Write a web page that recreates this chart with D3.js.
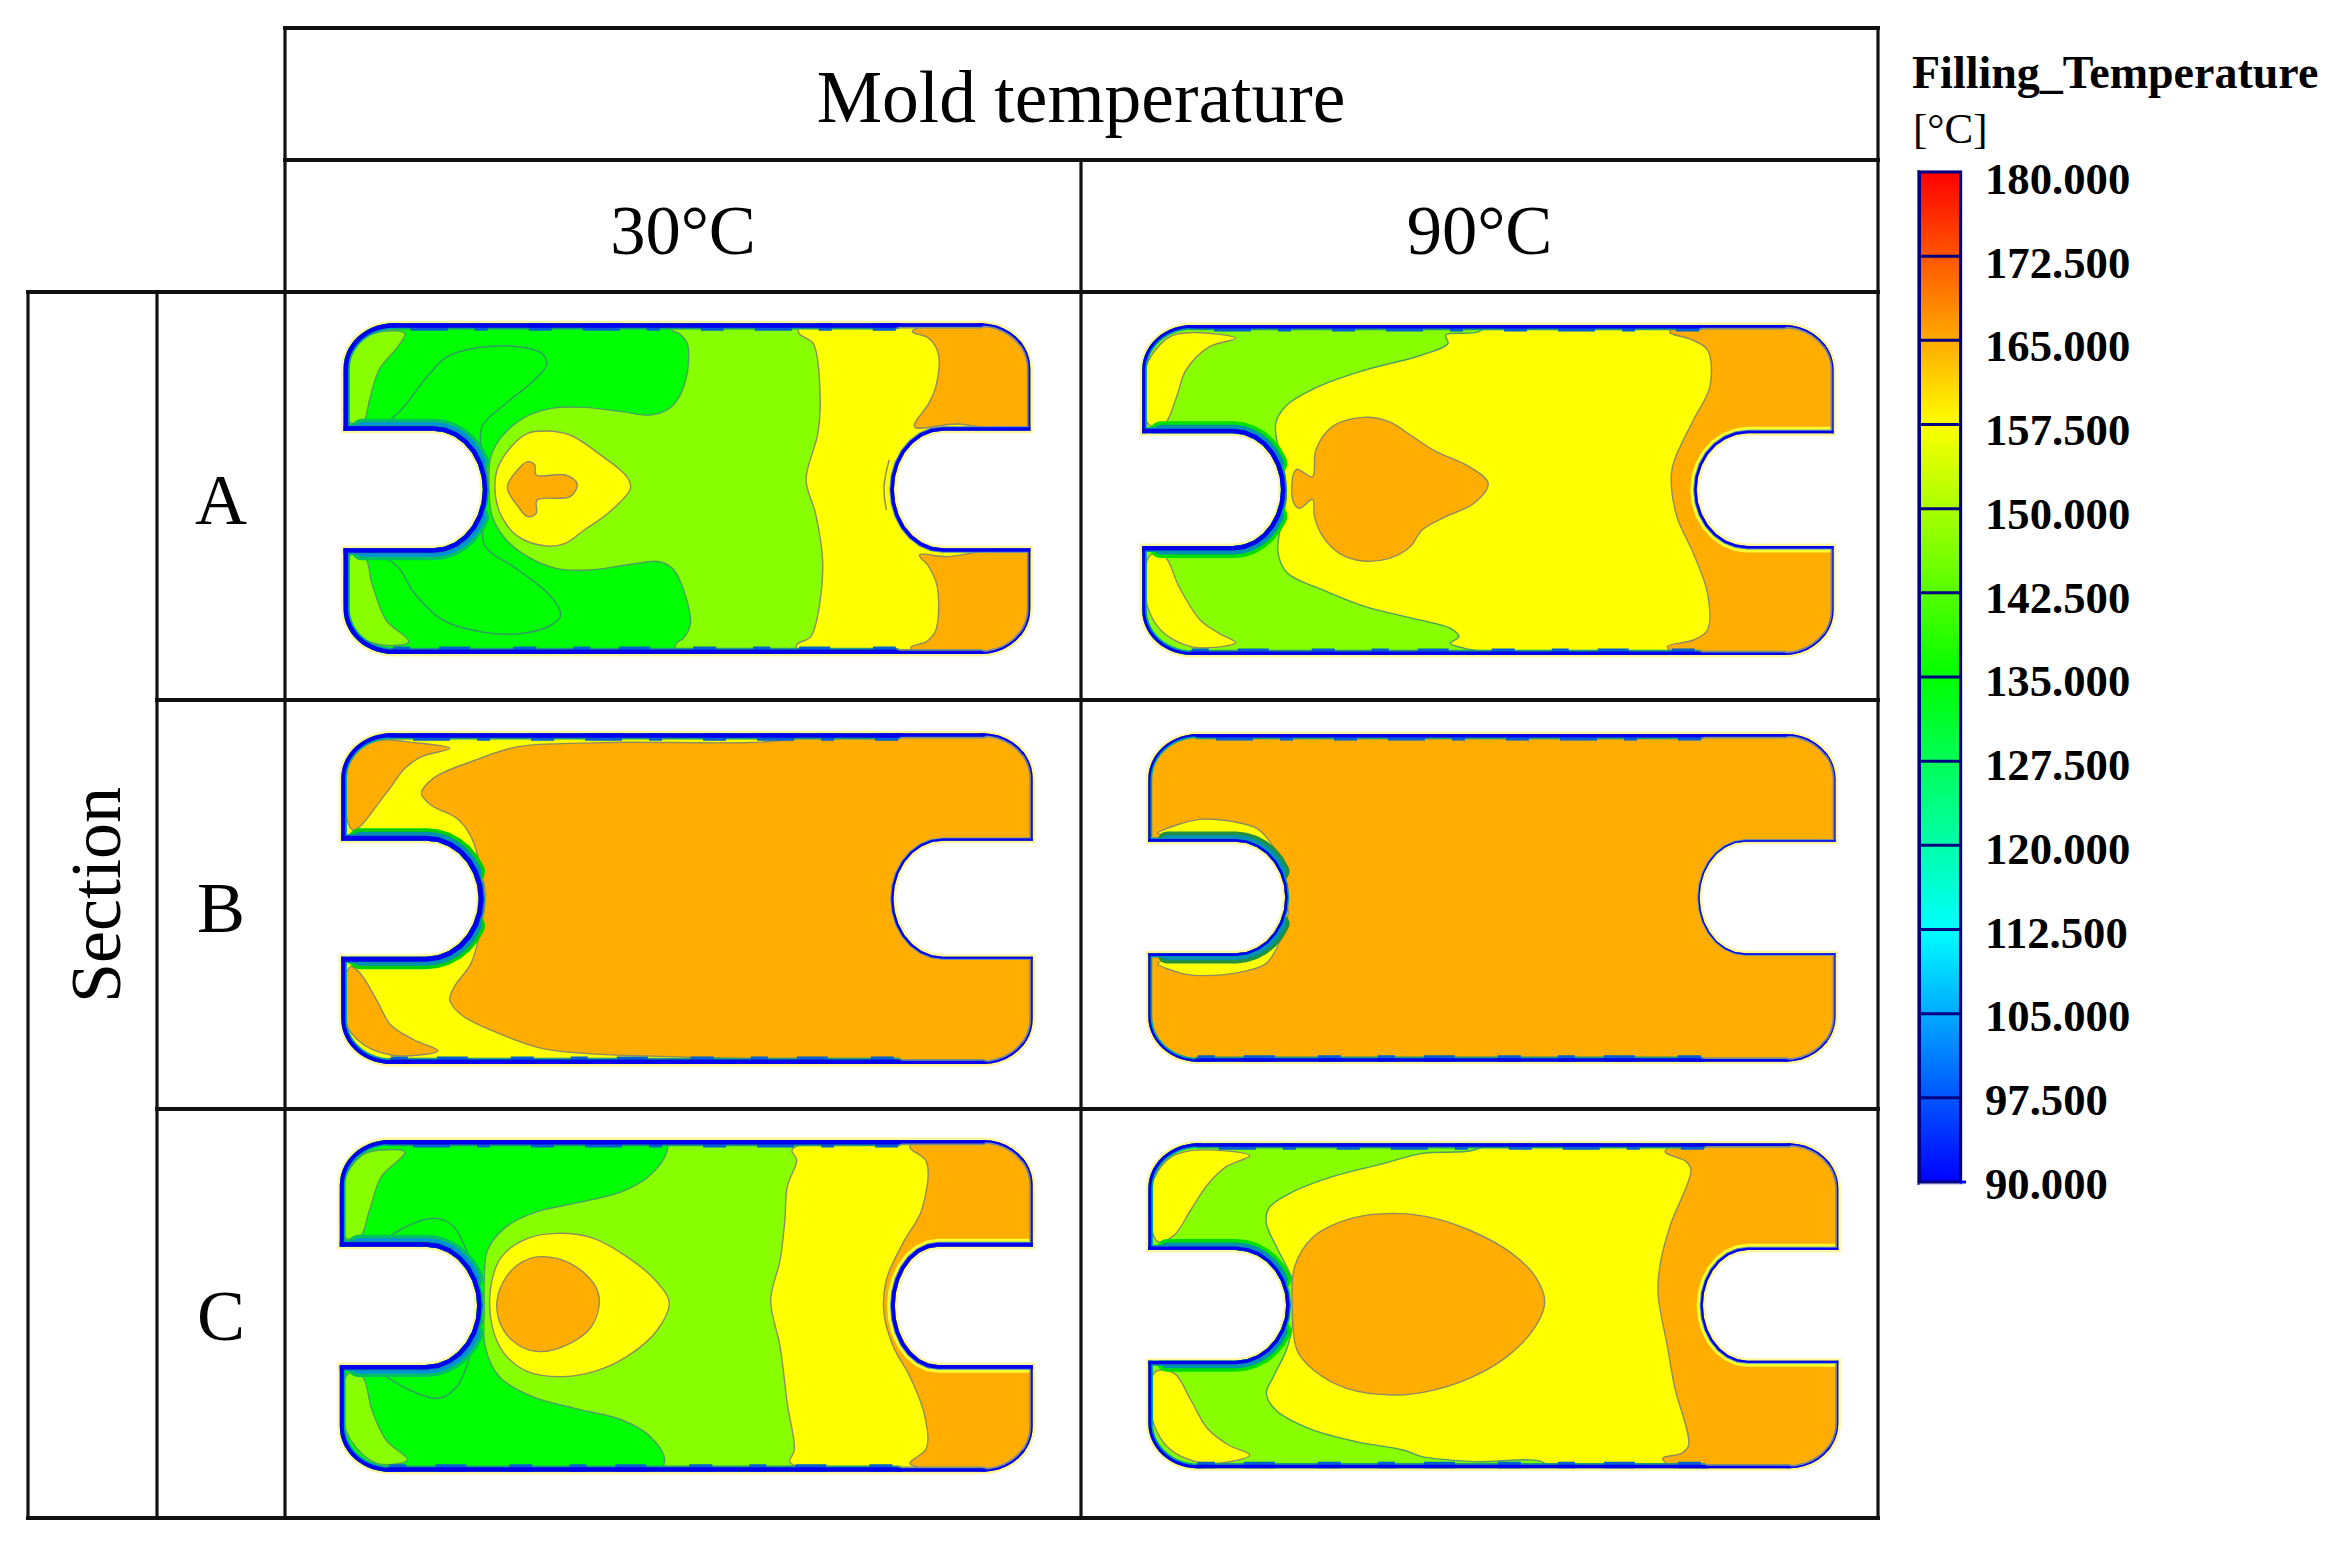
<!DOCTYPE html>
<html><head><meta charset="utf-8">
<script src="https://cdnjs.cloudflare.com/ajax/libs/d3/7.8.5/d3.min.js"></script>
<style>html,body{margin:0;padding:0;background:#fff}svg{display:block}text{font-family:"Liberation Serif",serif;fill:#000}</style>
</head><body><svg id="c" width="2335" height="1547"></svg>
<script>
// ---- table and legend content
const columnLabels = ["30°C","90°C"];
const rowLabels = ["A","B","C"];
const legendTicks = [180,172.5,165,157.5,150,142.5,135,127.5,120,112.5,105,97.5,90];
const jetStops = [90,112.5,135,157.5,180];
const jetColors = ["#0000ff","#00ffff","#00ff00","#ffff00","#ff0000"];
// band values read for the flat contour fills
const bandColors = ["#00ff00","#88ff00","#ffff00","#ffad00"];
const G=146,L=153,Y=160,O=168;

// ---- part outline: left, right, top, bottom, notch top, notch bottom, notch start L, notch tip L, notch start R, notch tip R (field units)
const outlineA30=[50,1505,70,1062,392,745,240,345,1320,1216];
const outlineA90=[47,1512,75,1065,400,738,240,341,1330,1222];
const outlineB30=[45,1510,70,1062,392,740,225,336,1320,1215];
const outlineB90=[60,1516,72,1055,395,730,245,350,1325,1228];
const outlineC30=[42,1510,60,1055,380,735,225,333,1310,1218];
const outlineC90=[60,1522,70,1045,390,722,245,352,1330,1235];
// rim (cold skin) thickness: top,left,notchL,bottom,right,notchR
const rimA30=[4.5,4.5,4.5,4.5,1.6,3.5], rimA90=[3.5,3,4.5,3.5,1.2,2.5], rimB30=[4.5,4,5,4.5,1.5,2.2];
const rimB90=[3.5,2.2,2.6,3.5,1,1.3], rimC30=[4.5,4,4.5,4.5,1.5,3.8], rimC90=[3.5,3,3.5,3.5,1.2,2.2];

// ---- contour regions, painted in order
const regionsA30=[
 {t:Y,p:[[1015,100],[1045,130],[1060,300],[1055,400],[1030,540],[1050,640],[1065,780],[1060,900],[1040,1010],[1010,1035],[1020,1075],[1530,1090],[1530,50],[1020,60]]},
 {t:O,p:[[1255,95],[1290,115],[1310,160],[1305,260],[1290,310],[1260,380],[1350,372],[1520,392],[1530,200],[1500,60],[1300,60],[1270,80]]},
 {t:O,p:[[1270,765],[1290,800],[1308,860],[1305,990],[1285,1025],[1252,1042],[1300,1080],[1530,1080],[1530,740],[1400,755],[1330,770]]},
 {t:G,p:[[760,100],[778,130],[775,240],[745,320],[700,345],[640,335],[560,322],[490,325],[430,355],[385,410],[362,470],[358,560],[365,650],[395,720],[440,770],[500,805],[570,810],[650,795],[720,785],[750,810],[775,890],[785,970],[770,1015],[755,1030],[740,1090],[20,1090],[20,50],[740,50],[745,90]]},
 {t:L,p:[[180,100],[165,140],[125,210],[105,300],[92,362],[60,365],[50,220],[90,120],[130,95]]},
 {t:L,p:[[65,765],[95,770],[110,850],[140,960],[188,1025],[130,1035],[75,1000],[50,900]]},
 {t:Y,p:[[480,393],[530,405],[590,460],[650,530],[658,565],[610,640],[560,690],[520,730],[480,738],[420,710],[385,650],[372,590],[375,510],[405,440],[440,400]]},
 {t:O,p:[[440,485],[455,495],[458,525],[520,525],[545,552],[530,590],[460,600],[458,640],[440,650],[420,620],[397,562],[425,500]]}
];
const isoA30=[
 [[145,365],[175,325],[230,225],[270,170],[340,142],[420,140],[470,160],[480,195],[450,245],[390,315],[345,375],[340,430],[355,520]],
 [[130,770],[165,800],[200,880],[260,960],[340,995],[430,1000],[490,975],[510,945],[490,890],[420,810],[350,740],[345,680],[350,610]],
 [[1206,480],[1195,560],[1200,630]]
];
const regionsA90=[
 {t:L,p:[[690,105],[695,130],[640,165],[520,210],[420,260],[350,320],[330,370],[335,440],[350,530],[352,600],[340,680],[335,760],[355,820],[430,870],[520,920],[620,955],[700,985],[718,1010],[700,1030],[730,1045],[850,1075],[20,1090],[20,50],[800,50],[760,95]]},
 {t:Y,p:[[245,115],[190,140],[140,210],[120,290],[95,370],[62,375],[50,220],[100,115],[150,98]]},
 {t:Y,p:[[65,765],[95,770],[125,860],[170,960],[210,1000],[245,1028],[150,1040],[80,980],[50,860]]},
 {t:O,p:[[1165,97],[1210,118],[1245,150],[1250,260],[1215,360],[1175,480],[1168,530],[1180,650],[1215,760],[1245,880],[1245,990],[1215,1020],[1160,1040],[1200,1075],[1530,1085],[1530,55],[1200,65]]},
 {t:O,p:[[515,352],[570,365],[620,410],[670,455],[740,500],[780,550],[750,610],[690,650],[640,690],[615,740],[570,775],[515,783],[465,760],[430,710],[412,650],[408,598],[380,625],[366,600],[368,520],[375,508],[408,530],[415,450],[450,380]]}
];
const isoA90=[];
const regionsB30=[
 {t:O,p:[[1000,82],[600,98],[420,110],[330,150],[240,205],[215,250],[235,285],[290,325],[320,380],[340,470],[350,560],[340,660],[320,760],[285,830],[275,870],[300,915],[370,965],[470,1015],[560,1030],[880,1045],[1300,1060],[1530,1075],[1530,55],[1000,65]]},
 {t:O,p:[[275,115],[215,140],[180,175],[140,250],[70,360],[50,250],[65,140],[120,92],[200,98]]},
 {t:O,p:[[65,770],[85,790],[120,870],[150,945],[200,990],[250,1022],[150,1035],[80,990],[45,900]]}
];
const isoB30=[];
const regionsB90=[
 {t:O,p:[[20,50],[1530,50],[1530,1075],[20,1075]]},
 {t:Y,p:[[80,370],[120,345],[170,328],[240,335],[290,355],[320,400],[345,480],[356,560],[300,400],[250,375],[130,375]]},
 {t:Y,p:[[80,760],[130,790],[180,797],[260,785],[310,760],[340,690],[356,600],[300,720],[250,740],[130,745]]}
];
const isoB90=[];
const regionsC30=[
 {t:G,p:[[735,95],[700,165],[640,215],[540,250],[460,275],[395,320],[355,390],[348,480],[348,560],[350,680],[380,770],[450,830],[540,865],[640,900],[700,950],[730,1020],[700,1085],[20,1085],[20,40],[730,40]]},
 {t:L,p:[[180,97],[130,170],[105,270],[85,350],[55,355],[45,200],[90,105],[130,90]]},
 {t:L,p:[[60,760],[90,770],[110,870],[140,960],[185,1020],[120,1030],[65,960],[45,860]]},
 {t:Y,p:[[1000,90],[1010,120],[990,200],[985,300],[975,420],[955,540],[975,680],[990,850],[1005,990],[995,1025],[1010,1040],[1060,1075],[1530,1085],[1530,50],[1060,60]]},
 {t:O,p:[[1250,82],[1285,125],[1275,270],[1235,370],[1200,480],[1195,580],[1215,680],[1250,770],[1280,880],[1285,985],[1250,1030],[1270,1045],[1290,1075],[1530,1075],[1530,50],[1270,55]]},
 {t:Y,p:[[505,340],[580,355],[650,410],[710,480],[740,548],[715,630],[650,710],[580,755],[510,770],[440,755],[390,700],[365,620],[362,500],[385,410],[440,355]]},
 {t:O,p:[[470,410],[530,430],[580,490],[592,545],[575,620],[530,670],[465,695],[420,675],[385,620],[375,545],[395,470],[430,425]]}
];
const isoC30=[
 [[140,355],[190,315],[240,295],[280,315],[310,390],[345,530]],
 [[130,760],[190,810],[250,835],[290,800],[320,700],[345,600]]
];
const regionsC90=[
 {t:L,p:[[640,100],[560,130],[450,170],[360,220],[315,265],[310,310],[335,390],[365,480],[370,560],[355,680],[325,770],[310,820],[330,870],[400,925],[500,965],[600,990],[640,1010],[750,1025],[900,1030],[900,1075],[20,1075],[20,50],[800,50],[750,90]]},
 {t:Y,p:[[275,107],[225,140],[185,195],[150,270],[115,345],[80,365],[62,220],[100,120],[150,92]]},
 {t:Y,p:[[75,755],[115,760],[150,840],[185,925],[230,975],[275,1005],[180,1030],[100,980],[62,860]]},
 {t:O,p:[[1155,95],[1200,125],[1210,150],[1165,320],[1145,430],[1140,520],[1160,680],[1175,800],[1205,975],[1190,1000],[1150,1015],[1200,1060],[1540,1060],[1540,50],[1200,60]]},
 {t:O,p:[[580,280],[650,290],[740,330],[830,400],[880,470],[900,545],[880,620],[820,710],[740,775],[650,815],[580,825],[480,805],[410,750],[375,690],[365,560],[370,440],[410,350],[490,295]]}
];
const isoC90=[];
// base fill, panel origin (px), outline, rim, regions, isolines
const panelBase=[L,Y,Y,O,L,Y];
const panelOriginX=[320,1120,320,1120,320,1120];
const panelOriginY=[300,300,710,710,1120,1120];
const panelOutlines=[outlineA30,outlineA90,outlineB30,outlineB90,outlineC30,outlineC90];
const panelRims=[rimA30,rimA90,rimB30,rimB90,rimC30,rimC90];
const panelRegions=[regionsA30,regionsA90,regionsB30,regionsB90,regionsC30,regionsC90];
const panelIso=[isoA30,isoA90,isoB30,isoB90,isoC30,isoC90];
const panelNotchRing=[false,true,false,false,true,true];
// colours around the notch shoulder: outer, inner
const shoulderOuter=["#00c060","#00e000","#00d000","#209040","#00c060","#00e000"];
const shoulderInner=["#0090e0","#0090b0","#0090b0","#0090b0","#0090e0","#0090b0"];

const svg=d3.select("#c");
svg.append("rect").attr("width",2335).attr("height",1547).attr("fill","#fff");
const defs=svg.append("defs");
defs.append("filter").attr("id","soft").attr("x","-5%").attr("y","-5%").attr("width","110%").attr("height","110%")
  .append("feGaussianBlur").attr("stdDeviation",0.75);
const band=d3.scaleThreshold().domain([150,157.5,165]).range(bandColors);
const jet=d3.scaleLinear().domain(jetStops).range(jetColors);

function arc(cx,cy,rx,ry,a0,a1,n=14){return d3.range(n+1).map(i=>{const a=(a0+(a1-a0)*i/n)*Math.PI/180;return [cx+rx*Math.cos(a),cy+ry*Math.sin(a)];});}
function outlineSegments(o){
 const [l,r,t,b,nt,nb,sl,tl,sr,tr]=o,rx=105,ry=135,nm=(nt+nb)/2,nry=(nb-nt)/2;
 return {
  top:[[r-rx-180,t],[l+rx,t]],
  topEnd:[[r-rx,t],[r-rx-180,t]],
  left:[...arc(l+rx,t+ry,rx,ry,270,180),[l,nt]],
  notchL:[[l,nt],...arc(sl,nm,tl-sl,nry,-90,90),[l,nb]],
  shoulderTop:[[l+40,nt],...arc(sl,nm,tl-sl,nry,-90,-28,6)],
  shoulderBottom:[...arc(sl,nm,tl-sl,nry,28,90,6),[l+40,nb]],
  leftLow:[[l,nb],...arc(l+rx,b-ry,rx,ry,180,90)],
  bottom:[[l+rx,b],[r-rx-180,b]],
  bottomEnd:[[r-rx-180,b],[r-rx,b]],
  cornerBR:arc(r-rx,b-ry,rx,ry,90,35,6),
  right:[...arc(r-rx,b-ry,rx,ry,35,0,5),[r,nb]],
  notchR:[[r,nb],...arc(sr,nm,sr-tr,nry,90,270),[r,nt]],
  rightUp:[[r,nt],...arc(r-rx,t+ry,rx,ry,0,-35,5)],
  cornerTR:arc(r-rx,t+ry,rx,ry,-35,-90,6)
 };
}
const strokeFor=t=>t<=L?"#4f9f60":"#8f8a62";

panelOutlines.forEach((o,i)=>{
 const x=d3.scaleLinear().domain([0,1568]).range([panelOriginX[i],panelOriginX[i]+740]);
 const y=d3.scaleLinear().domain([0,1140]).range([panelOriginY[i],panelOriginY[i]+380]);
 const open=d3.line().x(d=>x(d[0])).y(d=>y(d[1]));
 const smooth=d3.line().x(d=>x(d[0])).y(d=>y(d[1])).curve(d3.curveCatmullRom.alpha(0.5));
 const closed=d3.line().x(d=>x(d[0])).y(d=>y(d[1])).curve(d3.curveCatmullRomClosed.alpha(0.5));
 const s=outlineSegments(o);
 const outlinePts=[...s.topEnd,...s.top,...s.left,...s.notchL,...s.leftLow,...s.bottom,...s.bottomEnd,...s.cornerBR,...s.right,...s.notchR,...s.rightUp,...s.cornerTR];
 const outlineD=open(outlinePts)+"Z";
 const cid="clip"+i;
 defs.append("clipPath").attr("id",cid).append("path").attr("d",outlineD);
 const g=svg.append("g").attr("filter","url(#soft)");
 g.append("path").attr("d",outlineD).attr("fill","none").attr("stroke","#fff7a0").attr("stroke-width",5);
 g.append("path").attr("d",outlineD).attr("fill",band(panelBase[i]));
 const inner=g.append("g").attr("clip-path",`url(#${cid})`);
 inner.selectAll("path.r").data(panelRegions[i]).join("path").attr("class","r")
  .attr("d",d=>closed(d.p)).attr("fill",d=>band(d.t)).attr("stroke",d=>strokeFor(d.t)).attr("stroke-width",1.4);
 inner.selectAll("path.iso").data(panelIso[i]).join("path").attr("class","iso")
  .attr("d",d=>smooth(d)).attr("fill","none").attr("stroke",(d,k)=>k==2?"#8f8a62":"#2f9f60").attr("stroke-width",1.5);
 const [wT,wL,wN,wB,wR,wNR]=panelRims[i];
 const segs=[[s.top,wT,"#1a9a80"],[s.topEnd,wT*.75,"#7a9080"],[s.cornerTR,wT*.45,"#7a88a0"],[s.left,wL,"#00a0a0"],[s.leftLow,wL,"#00a0a0"],
             [s.bottom,wB,"#1a9a80"],[s.bottomEnd,wB*.75,"#7a9080"],[s.cornerBR,wB*.45,"#7a88a0"],[s.right,wR,"#7080a0"],[s.rightUp,wR,"#7080a0"]];
 const layers=[];
 layers.push({d:s.shoulderTop,w:wN*2+15,c:shoulderOuter[i]},{d:s.shoulderBottom,w:wN*2+15,c:shoulderOuter[i]});
 layers.push({d:s.shoulderTop,w:wN*2+8,c:shoulderInner[i]},{d:s.shoulderBottom,w:wN*2+8,c:shoulderInner[i]});
 layers.push({d:s.notchL,w:wN*2+3,c:"#0090b0"});
 if(panelNotchRing[i]) layers.push({d:s.notchR,w:wNR*2+8,c:"#ffff30"});
 layers.push({d:s.notchR,w:wNR*2+2,c:"#5088c0"});
 segs.forEach(([d,w,c])=>layers.push({d,w:w*2+3.5,c}));
 [s.top,s.bottom].forEach((d,k)=>layers.push({d,w:wT*2+6,c:"#0060d0",dash:k?"17 29 31 43 23 37":"23 41 13 27 37 31"}));
 segs.forEach(([d,w])=>layers.push({d,w:w*2,c:"#0000ee"}));
 layers.push({d:s.notchL,w:wN*2,c:"#0000ee"},{d:s.notchR,w:wNR*2,c:"#0000ee"});
 inner.selectAll("path.rim").data(layers).join("path").attr("class","rim")
  .attr("d",d=>open(d.d)).attr("fill","none").attr("stroke",d=>d.c).attr("stroke-width",d=>d.w)
  .attr("stroke-linecap",d=>d.dash?"butt":"round").attr("stroke-dasharray",d=>d.dash||null);
});

// ---- table grid
const gridX=[28,157,285,1081,1878], gridY=[28,160,292,700,1109,1518];
const gridH=[[2,4,0],[2,4,1],[0,4,2],[1,4,3],[1,4,4],[0,4,5]];
const gridV=[[0,2,5],[1,2,5],[2,0,5],[3,1,5],[4,0,5]];
const grid=svg.append("g").attr("stroke","#111").attr("stroke-linecap","square");
grid.selectAll("line.h").data(gridH).join("line").attr("class","h")
 .attr("x1",d=>gridX[d[0]]).attr("x2",d=>gridX[d[1]]).attr("y1",d=>gridY[d[2]]).attr("y2",d=>gridY[d[2]]).attr("stroke-width",4);
grid.selectAll("line.v").data(gridV).join("line").attr("class","v")
 .attr("x1",d=>gridX[d[0]]).attr("x2",d=>gridX[d[0]]).attr("y1",d=>gridY[d[1]]).attr("y2",d=>gridY[d[2]]).attr("stroke-width",3.2);

svg.append("text").attr("x",1081).attr("y",122).attr("text-anchor","middle").attr("font-size",73.5).text("Mold temperature");
svg.append("g").selectAll("text").data(columnLabels).join("text")
 .attr("x",(d,i)=>(gridX[2+i]+gridX[3+i])/2).attr("y",254).attr("text-anchor","middle").attr("font-size",70.5).text(d=>d);
const rowBase=[524,932,1340];
svg.append("g").selectAll("text").data(rowLabels).join("text")
 .attr("x",221).attr("y",(d,i)=>rowBase[i]).attr("text-anchor","middle").attr("font-size",72).text(d=>d);
svg.append("text").attr("transform","translate(120,895) rotate(-90)").attr("text-anchor","middle").attr("font-size",72).text("Section");

// ---- legend
svg.append("text").attr("x",1912).attr("y",88).attr("font-weight","bold").attr("font-size",46).text("Filling_Temperature");
svg.append("text").attr("x",1913).attr("y",143).attr("font-size",43).text("[°C]");
const barY=d3.scaleLinear().domain([90,180]).range([1182,172]);
const labelY=d3.scaleLinear().domain([90,180]).range([1184,179]);
const grad=defs.append("linearGradient").attr("id","jet").attr("gradientUnits","userSpaceOnUse")
 .attr("x1",0).attr("x2",0).attr("y1",barY(90)).attr("y2",barY(180));
jetStops.forEach(v=>grad.append("stop").attr("offset",(v-90)/90).attr("stop-color",jet(v)));
svg.append("rect").attr("x",1917).attr("y",170).attr("width",46).attr("height",1015).attr("fill","#d8d8f0");
svg.append("rect").attr("x",1917).attr("y",170).attr("width",3).attr("height",1015).attr("fill","#6a60b0");
svg.append("rect").attr("x",1919.5).attr("y",barY(180)).attr("width",41).attr("height",barY(90)-barY(180)).attr("fill","url(#jet)").attr("stroke","#000080").attr("stroke-width",3);
svg.append("g").selectAll("line").data(legendTicks.slice(1,-1)).join("line")
 .attr("x1",1919.5).attr("x2",1960.5).attr("y1",d=>barY(d)).attr("y2",d=>barY(d)).attr("stroke","#000080").attr("stroke-width",3);
svg.append("line").attr("x1",1960).attr("x2",1966).attr("y1",barY(90)).attr("y2",barY(90)).attr("stroke","#0000ff").attr("stroke-width",3);
const ax=d3.axisRight(labelY).tickValues(legendTicks).tickFormat(d3.format(".3f")).tickSize(0).tickPadding(0);
const axG=svg.append("g").attr("transform","translate(1985,0)").call(ax);
axG.select(".domain").remove();
axG.selectAll("text").attr("font-family","Liberation Serif").attr("font-weight","bold").attr("font-size",44.7).attr("fill","#000");
</script></body></html>
